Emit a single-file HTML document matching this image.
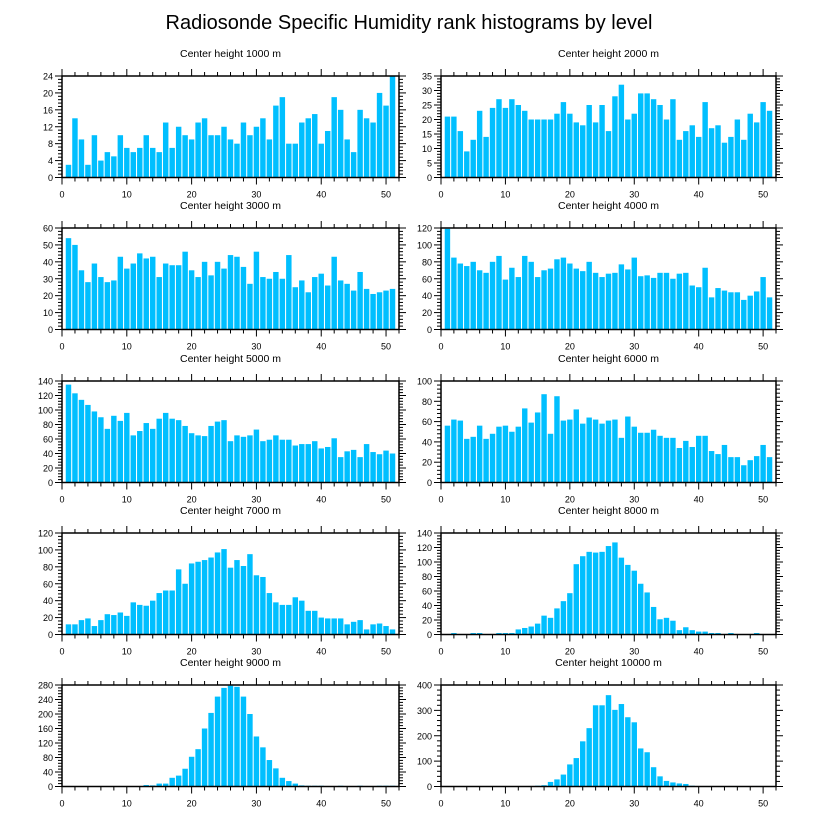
<!DOCTYPE html>
<html><head><meta charset="utf-8">
<style>
html,body{margin:0;padding:0;background:#fff;}
svg{display:block;font-family:"Liberation Sans",Arial,sans-serif;}
</style></head>
<body>
<svg id="chart" width="818" height="824" viewBox="0 0 818 824">
<text x="409" y="29" text-anchor="middle" font-size="20" fill="#000">Radiosonde Specific Humidity rank histograms by level</text>
</svg>
<script>
const levels = [1000,2000,3000,4000,5000,6000,7000,8000,9000,10000];
const yMax = [24,35,60,120,140,100,120,140,280,400];
const yStep = [4,5,10,20,20,20,20,20,40,100];
const xTicks = [0,10,20,30,40,50];
const h1000 = [3,14,9,3,10,4,6,5,10,7,6,7,10,7,6,13,7,12,10,9,13,14,10,10,12,9,8,13,10,12,14,9,17,19,8,8,13,14,15,8,11,19,16,9,6,16,14,13,20,17,24];
const h2000 = [21,21,16,9,13,23,14,24,27,24,27,25,23,20,20,20,20,22,26,22,19,18,25,19,25,16,28,32,20,22,29,29,27,25,20,27,13,16,18,14,26,17,18,12,14,20,13,22,19,26,23];
const h3000 = [54,50,35,28,39,31,28,29,43,36,39,45,42,43,31,39,38,38,46,35,31,40,32,40,36,44,43,37,27,46,31,30,34,30,44,25,29,22,31,33,26,43,29,27,23,34,24,21,22,23,24];
const h4000 = [119,85,78,75,80,70,67,80,87,59,73,62,87,80,62,70,72,83,85,78,72,69,80,67,62,66,67,77,71,85,63,64,61,67,67,60,66,67,52,50,73,38,49,46,44,44,35,40,45,62,38];
const h5000 = [135,123,114,107,98,90,74,92,85,96,65,71,82,74,88,96,88,86,78,68,65,64,78,84,86,57,65,63,65,73,57,59,65,59,59,51,53,53,57,47,49,61,35,43,45,35,53,42,39,44,40];
const h6000 = [56,62,61,43,45,56,43,48,55,56,50,55,73,59,69,87,48,85,61,62,72,58,64,62,58,61,62,44,65,55,49,49,52,46,44,44,34,41,35,46,46,31,28,37,25,25,17,22,26,37,25];
const h7000 = [12,12,17,19,10,17,24,23,26,22,38,35,34,40,49,52,52,77,60,84,86,88,91,97,101,79,88,81,95,70,68,49,38,35,35,44,40,28,28,20,19,19,19,12,15,17,6,12,13,10,6];
const h8000 = [0,2,0,0,2,2,0,0,2,2,2,7,9,11,15,26,23,36,46,57,97,108,114,113,114,122,127,106,96,88,70,58,38,21,23,19,6,10,6,4,4,2,2,0,2,0,0,0,2,0,0];
const h9000 = [0,0,0,0,0,0,0,0,0,0,0,0,4,3,8,8,24,30,49,82,103,160,203,248,272,278,275,248,200,138,108,73,50,24,15,8,3,2,2,2,1,1,2,1,1,2,1,1,2,2,2];
const h10000 = [0,0,0,0,0,0,0,0,0,0,0,0,0,2,3,5,18,28,47,87,112,178,230,320,320,360,302,325,273,253,150,135,76,40,22,16,12,10,3,2,2,2,1,1,2,2,1,1,2,0,0];
const series = [h1000,h2000,h3000,h4000,h5000,h6000,h7000,h8000,h9000,h10000];

const NS = "http://www.w3.org/2000/svg";
const svg = document.getElementById('chart');
const colX = [62, 441], colW = [337, 335];
const rowY = [76, 228, 381, 533, 685], plotH = 101.5;
const X_MAX = 52;

function mk(tag, attrs, parent) {
  const e = document.createElementNS(NS, tag);
  for (const k in attrs) e.setAttribute(k, attrs[k]);
  parent.appendChild(e);
  return e;
}

series.forEach((vals, p) => {
  const col = p % 2, row = Math.floor(p / 2);
  const L = colX[col], W = colW[col], T = rowY[row], B = T + plotH;
  const xs = v => L + v / X_MAX * W;
  const ys = v => B - v / yMax[p] * plotH;
  const g = mk('g', {}, svg);
  
  

  const t = mk('text', {x: L + W / 2, y: T - 19, 'text-anchor': 'middle', 'font-size': '10.5', fill: '#000'}, g);
  
  
  t.textContent = 'Center height ' + levels[p] + ' m';

  const unit = W / X_MAX;
  vals.forEach((v, i) => {
    if (v <= 0) return;
    const cx = xs(i + 1);
    const r = mk('rect', {x: cx - unit * 0.42, y: ys(v), width: unit * 0.84, height: B - ys(v), fill: '#00bfff'}, g);
    
    
  });

  // x ticks
  for (let v = 0; v <= X_MAX; v += 2) {
    const major = v % 10 === 0;
    const len = major ? 7 : 4;
    mk('line', {x1: xs(v), x2: xs(v), y1: B, y2: B + len, stroke: '#000', 'stroke-width': 1}, g);
    mk('line', {x1: xs(v), x2: xs(v), y1: T, y2: T - len, stroke: '#000', 'stroke-width': 1}, g);
  }
  xTicks.forEach(v => {
    const tl = mk('text', {x: xs(v), y: B + 20, 'text-anchor': 'middle', 'font-size': '9', fill: '#000'}, g);
    
    
    tl.textContent = v;
  });
  // y ticks
  const minor = yStep[p] / 5;
  for (let k = 0; k * minor <= yMax[p] + 1e-9; k++) {
    const v = k * minor;
    const major = k % 5 === 0;
    const len = major ? 7 : 4;
    mk('line', {x1: L, x2: L - len, y1: ys(v), y2: ys(v), stroke: '#000', 'stroke-width': 1}, g);
    mk('line', {x1: L + W, x2: L + W + len, y1: ys(v), y2: ys(v), stroke: '#000', 'stroke-width': 1}, g);
  }
  for (let v = 0; v <= yMax[p]; v += yStep[p]) {
    const tl = mk('text', {x: L - 9, y: ys(v) + 3.5, 'text-anchor': 'end', 'font-size': '9', fill: '#000'}, g);
    
    
    tl.textContent = v;
  }
  const frame = mk('rect', {x: L, y: T, width: W, height: plotH, fill: 'none', stroke: '#000', 'stroke-width': 1.5}, g);
  
  
});
</script>
</body></html>
